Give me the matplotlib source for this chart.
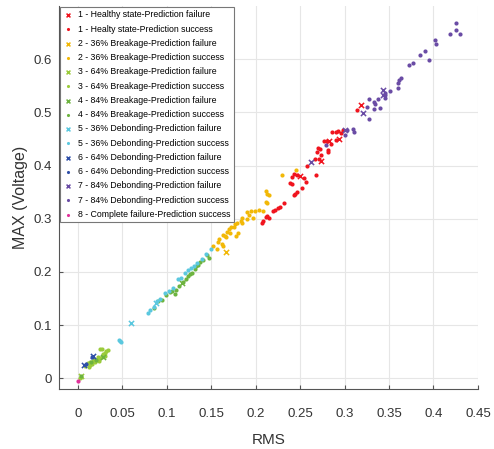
import matplotlib
matplotlib.use("Agg")
import matplotlib.pyplot as plt

plt.rcParams['font.family'] = ['Liberation Sans', 'DejaVu Sans']

# donnees (RMS, MAX)
labels = ['1 - Healthy state-Prediction failure', '1 - Healty state-Prediction success',
          '2 - 36% Breakage-Prediction failure', '2 - 36% Breakage-Prediction success',
          '3 - 64% Breakage-Prediction failure', '3 - 64% Breakage-Prediction success',
          '4 - 84% Breakage-Prediction failure', '4 - 84% Breakage-Prediction success',
          '5 - 36% Debonding-Prediction failure', '5 - 36% Debonding-Prediction success',
          '6 - 64% Debonding-Prediction failure', '6 - 64% Debonding-Prediction success',
          '7 - 84% Debonding-Prediction failure', '7 - 84% Debonding-Prediction success',
          '8 - Complete failure-Prediction success']

red_fail_x = [0.319, 0.282, 0.294, 0.273, 0.250]
red_fail_y = [0.513, 0.446, 0.450, 0.409, 0.380]
red_ok_x = [0.314, 0.286, 0.290, 0.293, 0.296, 0.298, 0.277, 0.285, 0.290, 0.272, 0.280, 0.281, 0.281,
            0.269, 0.270, 0.267, 0.271, 0.273, 0.258, 0.268, 0.243, 0.241, 0.246, 0.254, 0.257, 0.238,
            0.241, 0.252, 0.246, 0.244, 0.243, 0.232, 0.227, 0.225, 0.222, 0.219, 0.213, 0.215, 0.211,
            0.208, 0.207]
red_ok_y = [0.504, 0.464, 0.463, 0.465, 0.462, 0.466, 0.446, 0.441, 0.449, 0.432, 0.446, 0.430, 0.425,
            0.425, 0.434, 0.412, 0.412, 0.419, 0.399, 0.382, 0.385, 0.379, 0.382, 0.377, 0.370, 0.368,
            0.366, 0.358, 0.351, 0.347, 0.344, 0.329, 0.322, 0.320, 0.317, 0.315, 0.305, 0.301, 0.303,
            0.296, 0.292]

yel_fail_x = [0.166]
yel_fail_y = [0.237]
yel_ok_x = [0.229, 0.245, 0.211, 0.213, 0.215, 0.211, 0.213, 0.208, 0.204, 0.199, 0.195, 0.190, 0.192,
            0.197, 0.190, 0.185, 0.183, 0.185, 0.179, 0.177, 0.175, 0.172, 0.170, 0.168, 0.171, 0.163,
            0.165, 0.167, 0.159, 0.158, 0.162, 0.163, 0.180, 0.178, 0.156, 0.152]
yel_ok_y = [0.383, 0.392, 0.353, 0.347, 0.344, 0.332, 0.330, 0.314, 0.317, 0.314, 0.314, 0.312, 0.308,
            0.301, 0.300, 0.301, 0.296, 0.293, 0.293, 0.291, 0.285, 0.285, 0.281, 0.276, 0.273, 0.270,
            0.267, 0.266, 0.262, 0.256, 0.253, 0.248, 0.274, 0.268, 0.244, 0.248]

lg_fail_x = [0.003]
lg_fail_y = [0.005]
lg_ok_x = [0.008, 0.0135, 0.017, 0.021, 0.025, 0.027, 0.028, 0.030, 0.032, 0.034, 0.027, 0.025, 0.011,
           0.014, 0.019, 0.022, 0.018, 0.012, 0.016, 0.002, 0.003, 0.024, 0.030]
lg_ok_y = [0.023, 0.026, 0.032, 0.035, 0.038, 0.041, 0.045, 0.048, 0.051, 0.054, 0.055, 0.056, 0.028,
           0.031, 0.030, 0.040, 0.037, 0.022, 0.027, 0.001, 0.003, 0.033, 0.043]

gr_fail_x = [0.028, 0.117]
gr_fail_y = [0.041, 0.180]
gr_ok_x = [0.085, 0.090, 0.094, 0.099, 0.103, 0.109, 0.110, 0.114, 0.122, 0.124, 0.128, 0.132, 0.133,
           0.137, 0.141, 0.147, 0.145, 0.118, 0.126, 0.135, 0.106, 0.003, 0.015, 0.020]
gr_ok_y = [0.132, 0.145, 0.148, 0.157, 0.162, 0.159, 0.167, 0.174, 0.186, 0.193, 0.199, 0.206, 0.212,
           0.218, 0.223, 0.226, 0.231, 0.181, 0.196, 0.214, 0.164, 0.004, 0.030, 0.034]

cy_fail_x = [0.060, 0.088]
cy_fail_y = [0.105, 0.141]
cy_ok_x = [0.079, 0.081, 0.085, 0.089, 0.092, 0.098, 0.102, 0.107, 0.112, 0.120, 0.124, 0.130, 0.134,
           0.139, 0.144, 0.150, 0.046, 0.048, 0.047, 0.116, 0.127]
cy_ok_y = [0.123, 0.129, 0.135, 0.145, 0.149, 0.160, 0.165, 0.170, 0.186, 0.198, 0.203, 0.211, 0.217,
           0.224, 0.234, 0.244, 0.073, 0.069, 0.071, 0.189, 0.207]

bl_fail_x = [0.007, 0.017]
bl_fail_y = [0.025, 0.043]
bl_ok_x = [0.016, 0.009]
bl_ok_y = [0.041, 0.027]

pu_fail_x = [0.343, 0.343, 0.321, 0.262, 0.300]
pu_fail_y = [0.543, 0.533, 0.498, 0.407, 0.467]
pu_ok_x = [0.425, 0.419, 0.425, 0.430, 0.402, 0.403, 0.390, 0.385, 0.395, 0.377, 0.372, 0.363, 0.361,
           0.360, 0.360, 0.351, 0.345, 0.345, 0.345, 0.338, 0.333, 0.334, 0.340, 0.333, 0.327, 0.325,
           0.327, 0.311, 0.309, 0.303, 0.301, 0.279]
pu_ok_y = [0.668, 0.648, 0.654, 0.647, 0.637, 0.629, 0.616, 0.608, 0.598, 0.593, 0.590, 0.565, 0.560,
           0.555, 0.546, 0.541, 0.536, 0.528, 0.532, 0.525, 0.520, 0.516, 0.509, 0.507, 0.525, 0.511,
           0.487, 0.464, 0.468, 0.466, 0.458, 0.438]

mg_ok_x = [0.0]
mg_ok_y = [-0.005]

couleurs = ['#F0141E', '#F2B807', '#9BCB3B', '#6DB33F', '#5BC8DF', '#2F4FA8', '#6A4CA5', '#E0329A']

series = [(red_fail_x, red_fail_y), (red_ok_x, red_ok_y), (yel_fail_x, yel_fail_y), (yel_ok_x, yel_ok_y),
          (lg_fail_x, lg_fail_y), (lg_ok_x, lg_ok_y), (gr_fail_x, gr_fail_y), (gr_ok_x, gr_ok_y),
          (cy_fail_x, cy_fail_y), (cy_ok_x, cy_ok_y), (bl_fail_x, bl_fail_y), (bl_ok_x, bl_ok_y),
          (pu_fail_x, pu_fail_y), (pu_ok_x, pu_ok_y), (mg_ok_x, mg_ok_y)]

fig = plt.figure(figsize=(4.94, 4.49), dpi=100)
ax = fig.add_axes([0.1194, 0.1336, 0.848, 0.853])

for i, (xs, ys) in enumerate(series):
    c = couleurs[min(i // 2, 7)]
    if i % 2 == 0 and i < 14:
        ax.scatter(xs, ys, marker='x', s=14, color=c, linewidths=1.1, label=labels[i], zorder=3)
    else:
        ax.scatter(xs, ys, marker='o', s=9, color=c, linewidths=0, label=labels[i], zorder=3)

ax.set_xlim(-0.0214, 0.45)
ax.set_ylim(-0.020, 0.70)
ax.set_xticks([0, 0.05, 0.1, 0.15, 0.2, 0.25, 0.3, 0.35, 0.4, 0.45])
ax.set_xticklabels(['0', '0.05', '0.1', '0.15', '0.2', '0.25', '0.3', '0.35', '0.4', '0.45'])
ax.set_yticks([0, 0.1, 0.2, 0.3, 0.4, 0.5, 0.6])
ax.set_yticklabels(['0', '0.1', '0.2', '0.3', '0.4', '0.5', '0.6'])
ax.grid(True, color='#e6e6e6', linewidth=0.8)
ax.set_axisbelow(True)
for s in ['top', 'right']:
    ax.spines[s].set_visible(False)
for s in ['left', 'bottom']:
    ax.spines[s].set_color('#555555')
    ax.spines[s].set_linewidth(0.8)
ax.tick_params(direction='in', length=3, colors='#555555', labelcolor='#333333', labelsize=9.5)
ax.tick_params(axis='x', pad=14)
ax.tick_params(axis='y', pad=5)

ax.set_xlabel('RMS', fontsize=11, color='#333333', labelpad=9)
ax.set_ylabel('MAX (Voltage)', fontsize=11.5, color='#333333', labelpad=4)

leg = ax.legend(loc='upper left', fontsize=6.3, labelspacing=0.6, handletextpad=0.7, handlelength=1.0,
                borderaxespad=0.1, borderpad=0.4, fancybox=False, framealpha=1, edgecolor='#777777',
                markerscale=0.75)
leg.get_frame().set_linewidth(0.8)

plt.savefig('out.png', dpi=100)
